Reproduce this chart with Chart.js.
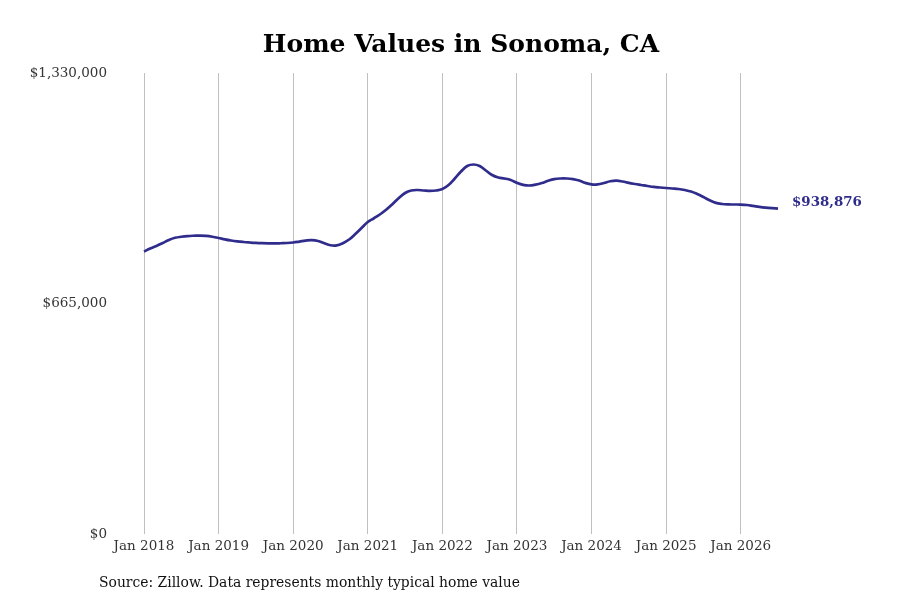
<!DOCTYPE html>
<html><head><meta charset="utf-8">
<script src="https://cdn.jsdelivr.net/npm/chart.js@4.4.1/dist/chart.umd.min.js"></script>
<style>
html,body{margin:0;padding:0;background:#fff;}
#wrap{position:relative;width:900px;height:600px;}
#c{display:block;width:900px;height:600px;}
#source{position:absolute;left:99px;top:573px;font-family:"DejaVu Serif";font-size:13.9px;line-height:18px;color:#111;white-space:nowrap;}
</style></head><body>
<div id="wrap"><canvas id="c" width="900" height="600"></canvas>
<div id="source">Source: Zillow. Data represents monthly typical home value</div></div>
<script>
const chartTitle = 'Home Values in Sonoma, CA';
const categories = [
 'Jan 2018','Feb 2018','Mar 2018','Apr 2018','May 2018','Jun 2018','Jul 2018','Aug 2018','Sep 2018','Oct 2018','Nov 2018','Dec 2018',
 'Jan 2019','Feb 2019','Mar 2019','Apr 2019','May 2019','Jun 2019','Jul 2019','Aug 2019','Sep 2019','Oct 2019','Nov 2019','Dec 2019',
 'Jan 2020','Feb 2020','Mar 2020','Apr 2020','May 2020','Jun 2020','Jul 2020','Aug 2020','Sep 2020','Oct 2020','Nov 2020','Dec 2020',
 'Jan 2021','Feb 2021','Mar 2021','Apr 2021','May 2021','Jun 2021','Jul 2021','Aug 2021','Sep 2021','Oct 2021','Nov 2021','Dec 2021',
 'Jan 2022','Feb 2022','Mar 2022','Apr 2022','May 2022','Jun 2022','Jul 2022','Aug 2022','Sep 2022','Oct 2022','Nov 2022','Dec 2022',
 'Jan 2023','Feb 2023','Mar 2023','Apr 2023','May 2023','Jun 2023','Jul 2023','Aug 2023','Sep 2023','Oct 2023','Nov 2023','Dec 2023',
 'Jan 2024','Feb 2024','Mar 2024','Apr 2024','May 2024','Jun 2024','Jul 2024','Aug 2024','Sep 2024','Oct 2024','Nov 2024','Dec 2024',
 'Jan 2025','Feb 2025','Mar 2025','Apr 2025','May 2025','Jun 2025','Jul 2025','Aug 2025','Sep 2025','Oct 2025','Nov 2025','Dec 2025',
 'Jan 2026','Feb 2026','Mar 2026','Apr 2026','May 2026','Jun 2026','Jul 2026'
];
const homeValues = [
 815000,823700,830900,839500,848200,854500,857500,859500,860500,861000,860000,857500,
 854000,850000,846700,844200,842400,841000,839800,839000,838500,838300,838800,839500,
 841000,843600,846400,847800,845300,838800,833000,832500,839000,849600,865500,882800,
 900100,911000,922500,936000,952100,969400,983800,991000,992400,991000,989800,991000,
 995300,1006900,1025600,1045800,1061700,1066000,1061700,1048700,1035700,1028500,1025600,1021300,
 1013000,1007200,1005400,1008000,1012600,1019000,1023800,1025600,1025600,1024000,1019800,1013000,
 1008600,1008600,1012600,1017600,1019400,1017000,1013000,1009800,1006900,1004000,1001400,999700,
 998200,996800,995300,992400,988100,980900,972200,962800,955400,952100,950800,950600,
 950400,949200,946500,943600,941400,939900,938876
];
const tickLabels = ['Jan 2018','Jan 2019','Jan 2020','Jan 2021','Jan 2022','Jan 2023','Jan 2024','Jan 2025','Jan 2026'];
const yTicks = [0, 665000, 1330000];
const sourceText = 'Source: Zillow. Data represents monthly typical home value';

const lineColor = '#2f2c8c';
const serif = '"DejaVu Serif", serif';
const fmt = v => '$' + Number(v).toLocaleString('en-US');

const endLabel = {
  id: 'endLabel',
  afterDatasetsDraw(chart) {
    const meta = chart.getDatasetMeta(0);
    const pt = meta.data[meta.data.length - 1];
    const val = chart.data.datasets[0].data[meta.data.length - 1];
    const ctx = chart.ctx;
    ctx.save();
    ctx.font = 'bold 13.4px ' + serif;
    ctx.fillStyle = lineColor;
    ctx.textAlign = 'left';
    ctx.textBaseline = 'middle';
    ctx.fillText(fmt(val), pt.x + 14, pt.y - 6);
    ctx.restore();
  }
};

new Chart(document.getElementById('c'), {
  type: 'line',
  data: {
    labels: categories,
    datasets: [{
      data: homeValues,
      borderColor: lineColor,
      borderWidth: 2.7,
      pointRadius: 0,
      tension: 0.4,
      fill: false
    }]
  },
  options: {
    responsive: false,
    animation: false,
    devicePixelRatio: 1,
    layout: { padding: { left: 0, right: 122, top: 0, bottom: 0 } },
    plugins: {
      legend: { display: false },
      tooltip: { enabled: false },
      title: {
        display: true,
        text: chartTitle,
        fullSize: false,
        color: '#000',
        font: { family: serif, size: 25, weight: 'bold', lineHeight: 1.2 },
        padding: { top: 30, bottom: 13 }
      }
    },
    scales: {
      x: {
        type: 'category',
        border: { display: false },
        grid: {
          drawTicks: false,
          lineWidth: 1,
          color: ctx => (ctx.tick && tickLabels.includes(categories[ctx.index])) ? '#c0c0c0' : 'rgba(0,0,0,0)'
        },
        ticks: {
          autoSkip: false,
          maxRotation: 0,
          minRotation: 0,
          padding: 4,
          color: '#333',
          font: { family: serif, size: 13.5 },
          callback: (v, i) => tickLabels.includes(categories[i]) ? categories[i] : ''
        },
        afterFit: s => { s.height = 66; }
      },
      y: {
        min: yTicks[0],
        max: yTicks[yTicks.length - 1],
        border: { display: false },
        grid: { display: false, drawTicks: false },
        afterBuildTicks: s => { s.ticks = yTicks.map(v => ({ value: v })); },
        ticks: {
          padding: 37,
          color: '#333',
          font: { family: serif, size: 13.5 },
          callback: v => fmt(v)
        },
        afterFit: s => { s.width = 144; }
      }
    }
  },
  plugins: [endLabel]
});
</script>
</body></html>
